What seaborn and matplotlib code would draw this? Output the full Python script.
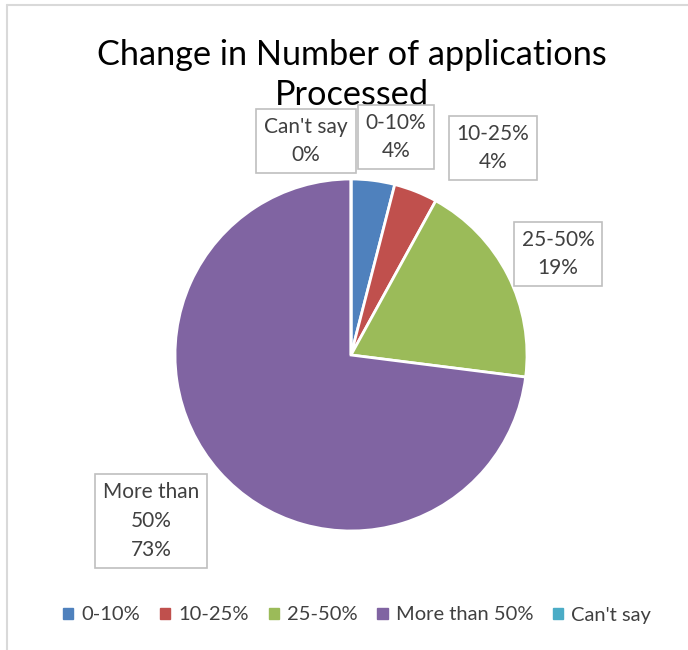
import matplotlib
matplotlib.use("Agg")
import matplotlib.pyplot as plt
import seaborn as sns
from matplotlib.patches import Patch
from matplotlib.lines import Line2D

categories = ["0-10%", "10-25%", "25-50%", "More than 50%", "Can't say"]
values = [4, 4, 19, 73, 0]
box_texts = ["0-10%\n4%", "10-25%\n4%", "25-50%\n19%", "More than\n50%\n73%", "Can't say\n0%"]
colors = ["#4F81BD", "#C0504D", "#9BBB59", "#8064A2", "#4BACC6"]
title = "Change in Number of applications\nProcessed"

sns.set_theme(style="white")
plt.rcParams['font.family'] = ['Lato', 'DejaVu Sans']

W, H = 688, 650
fig = plt.figure(figsize=(W / 100, H / 100), dpi=100)

# pie axes: center (351,355) px, radius 176 px
cx, cy, r = 351, 355, 176
ax = fig.add_axes([(cx - r) / W, 1 - (cy + r) / H, 2 * r / W, 2 * r / H])
ax.pie(values, colors=colors, startangle=90, counterclock=False,
       wedgeprops=dict(edgecolor="white", linewidth=2))
ax.set_xlim(-1, 1)
ax.set_ylim(-1, 1)
ax.set_aspect("auto")
ax.axis("off")

# title
fig.text(352 / W, 1 - 75 / H, title, ha="center", va="center",
         fontsize=24.7, color="black", linespacing=1.28)

# data label boxes (pixel centers)
label_pos = [(396, 137), (493, 148), (558, 254), (151, 521), (306, 141)]
for (px, py), txt in zip(label_pos, box_texts):
    fig.text(px / W, 1 - py / H, txt, ha="center", va="center",
             fontsize=15, color="#404040", linespacing=1.55,
             bbox=dict(boxstyle="square,pad=0.38", fc="white", ec="#BFBFBF", lw=1.2))

# legend
handles = [Patch(facecolor=c, edgecolor=c) for c in colors]
fig.legend(handles, categories, loc="center", bbox_to_anchor=(357 / W, 1 - 615 / H),
           ncol=5, frameon=False, fontsize=14.5, handlelength=0.5, handleheight=0.5,
           handletextpad=0.4, columnspacing=1.0, labelcolor="#404040")

# chart area border (top and left visible)
fig.add_artist(Line2D([6.5 / W, 1], [1 - 5 / H, 1 - 5 / H], transform=fig.transFigure,
                      color="#D9D9D9", lw=1.5))
fig.add_artist(Line2D([6.5 / W, 6.5 / W], [0, 1 - 5 / H], transform=fig.transFigure,
                      color="#D9D9D9", lw=1.5))

fig.savefig("out.png", dpi=100, facecolor="white")
